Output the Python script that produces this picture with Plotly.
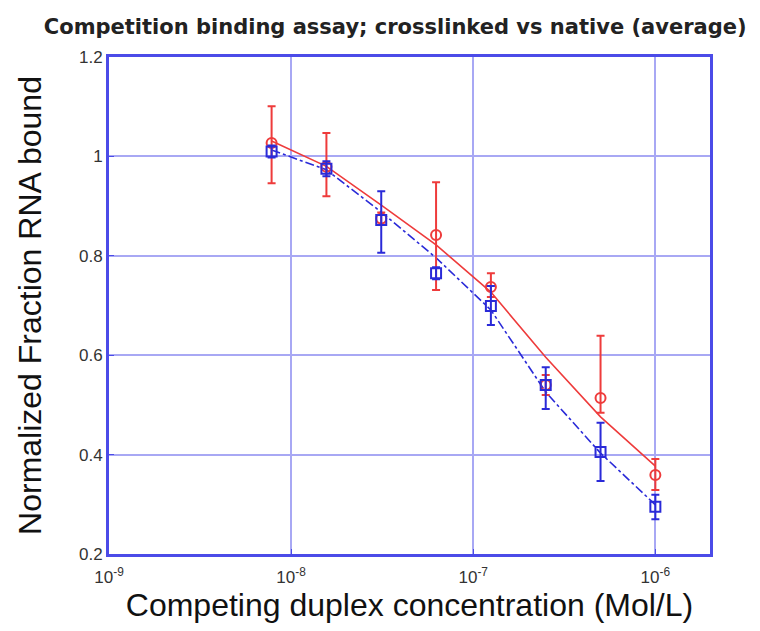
import plotly.graph_objects as go

conc = [7.8125e-9, 1.5625e-8, 3.125e-8, 6.25e-8, 1.25e-7, 2.5e-7, 5e-7, 1e-6]

red_y = [1.027, 0.979, 0.875, 0.842, 0.737, 0.540, 0.514, 0.359]
red_up = [0.074, 0.068, 0.012, 0.106, 0.028, 0.020, 0.125, 0.032]
red_dn = [0.081, 0.059, 0.012, 0.111, 0.020, 0.020, 0.030, 0.030]

blue_y = [1.010, 0.975, 0.872, 0.765, 0.699, 0.540, 0.405, 0.295]
blue_up = [0.012, 0.015, 0.058, 0.012, 0.040, 0.036, 0.059, 0.024]
blue_dn = [0.012, 0.015, 0.066, 0.012, 0.038, 0.048, 0.058, 0.025]

red_fit = [1.031, 0.980, 0.902, 0.822, 0.727, 0.596, 0.476, 0.377]
blue_fit = [1.013, 0.973, 0.888, 0.796, 0.691, 0.526, 0.403, 0.299]

xticks = [1e-9, 1e-8, 1e-7, 1e-6]
xticktext = ["10<sup>-9</sup>", "10<sup>-8</sup>", "10<sup>-7</sup>", "10<sup>-6</sup>"]
yticks = [0.2, 0.4, 0.6, 0.8, 1.0, 1.2]
yticktext = ["0.2", "0.4", "0.6", "0.8", "1", "1.2"]

RED = "#ee3b3b"
BLUE = "#2a2ad8"
FONT = "Arial, Liberation Sans"

fig = go.Figure()
fig.add_trace(go.Scatter(x=conc, y=red_fit, mode="lines",
                         line=dict(color=RED, width=1.6), showlegend=False))
fig.add_trace(go.Scatter(x=conc, y=blue_fit, mode="lines",
                         line=dict(color=BLUE, width=1.6, dash="dashdot"), showlegend=False))
fig.add_trace(go.Scatter(x=conc, y=red_y, mode="markers",
                         marker=dict(symbol="circle-open", size=10, color=RED, line=dict(width=2)),
                         error_y=dict(type="data", symmetric=False, array=red_up, arrayminus=red_dn,
                                      color=RED, thickness=2, width=4),
                         showlegend=False))
fig.add_trace(go.Scatter(x=conc, y=blue_y, mode="markers",
                         marker=dict(symbol="square-open", size=10, color=BLUE, line=dict(width=2)),
                         error_y=dict(type="data", symmetric=False, array=blue_up, arrayminus=blue_dn,
                                      color=BLUE, thickness=2, width=4),
                         showlegend=False))

fig.update_layout(
    width=760, height=631,
    margin=dict(l=109, r=50, t=57, b=77),
    paper_bgcolor="white", plot_bgcolor="white",
    title=dict(text="<b>Competition binding assay; crosslinked vs native (average)</b>",
               x=0.52, xanchor="center", y=0.957, yanchor="middle",
               font=dict(family="DejaVu Sans", size=21, color="#222222")),
    xaxis=dict(type="log", range=[-9, -5.70], tickvals=xticks, ticktext=xticktext,
               showgrid=True, gridcolor="#a8a8f4", gridwidth=2,
               showline=True, linecolor="#4b4be8", linewidth=3, mirror=True,
               ticks="inside", ticklen=5, tickcolor="#4b4be8",
               ticklabelstandoff=6,
               tickfont=dict(family=FONT, size=17, color="#333333"),
               title=dict(text="Competing duplex concentration (Mol/L)", standoff=4,
                          font=dict(family=FONT, size=32, color="#111111")),
               zeroline=False),
    yaxis=dict(range=[0.2, 1.2], tickvals=yticks, ticktext=yticktext,
               showgrid=True, gridcolor="#a8a8f4", gridwidth=2,
               showline=True, linecolor="#4b4be8", linewidth=3, mirror=True,
               ticks="inside", ticklen=5, tickcolor="#4b4be8",
               tickfont=dict(family=FONT, size=17, color="#333333"),
               title=dict(text="Normalized Fraction RNA bound", standoff=28,
                          font=dict(family=FONT, size=32, color="#111111")),
               zeroline=False),
)

fig.write_html("out.html")
